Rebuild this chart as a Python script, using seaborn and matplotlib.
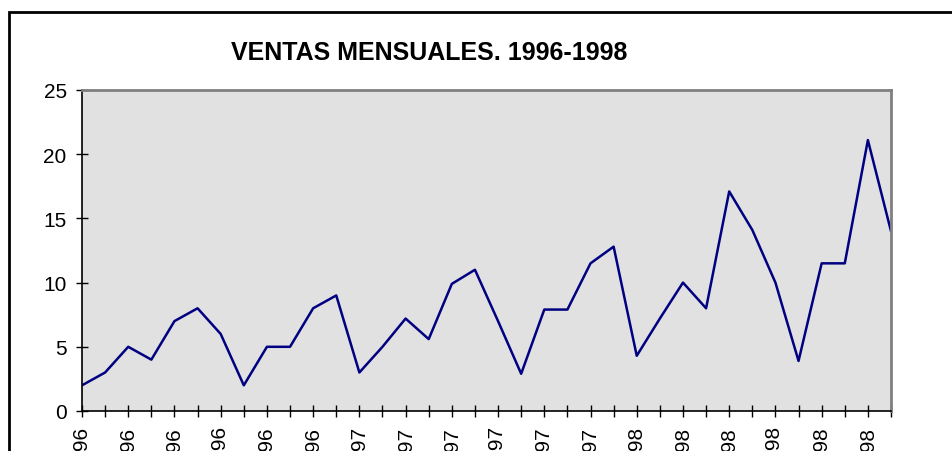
import seaborn as sns
import pandas as pd
from matplotlib import pyplot as plt
from matplotlib.patches import Rectangle

# datos: ventas mensuales 1996-1998
meses = ["ene", "feb", "mar", "abr", "may", "jun",
         "jul", "ago", "sep", "oct", "nov", "dic"]
anios = ["96", "97", "98"]
ventas = [2, 3, 5, 4, 7, 8, 6, 2, 5, 5, 8, 9,
          3, 5, 7.2, 5.6, 9.9, 11, 7, 2.9, 7.9, 7.9, 11.5, 12.8,
          4.3, 7.2, 10, 8, 17.1, 14.1, 10, 3.9, 11.5, 11.5, 21.1, 14]

etiquetas = [m + "-" + a for a in anios for m in meses]
df = pd.DataFrame({"pos": range(len(ventas)), "ventas": ventas})

sns.set_style("white")
plt.rcParams["font.family"] = ["Liberation Sans", "DejaVu Sans"]
plt.rcParams["text.color"] = "black"
plt.rcParams["xtick.color"] = "black"
plt.rcParams["ytick.color"] = "black"

fig = plt.figure(figsize=(9.53, 4.52), dpi=100)
ax = fig.add_axes([82 / 953, 40 / 452, 809 / 953, 321 / 452])

sns.lineplot(data=df, x="pos", y="ventas", ax=ax, color="#000080", linewidth=1.8)

ax.set_facecolor("#e1e1e1")
ax.set_xlim(0, len(ventas) - 1)
ax.set_ylim(0, 25)
ax.set_yticks([0, 5, 10, 15, 20, 25])
ax.set_xticks(range(len(ventas)))
ax.set_xticklabels([e if i % 2 == 0 else "" for i, e in enumerate(etiquetas)],
                   rotation=90, ha="center", va="top")
ax.tick_params(axis="both", direction="inout", length=8, width=1, color="black",
               labelsize=15, labelcolor="black", bottom=True, left=True)
ax.tick_params(axis="x", pad=7)
ax.tick_params(axis="y", pad=7)
ax.set_xlabel("")
ax.set_ylabel("")

for s in ["left", "bottom"]:
    ax.spines[s].set_color("black")
    ax.spines[s].set_linewidth(1.2)
for s in ["top", "right"]:
    ax.spines[s].set_color("#808080")
    ax.spines[s].set_linewidth(2)

fig.text(429 / 953, 1 - 59.5 / 452, "VENTAS MENSUALES. 1996-1998",
         ha="center", va="baseline", fontsize=18, fontweight="bold", color="black")

# marco del área del gráfico
fig.patches.append(Rectangle((9 / 953, -0.1), 1.2, 1 - 13 / 452 + 0.1,
                             transform=fig.transFigure, fill=False,
                             edgecolor="black", linewidth=2))

fig.savefig("out.png", dpi=100)
